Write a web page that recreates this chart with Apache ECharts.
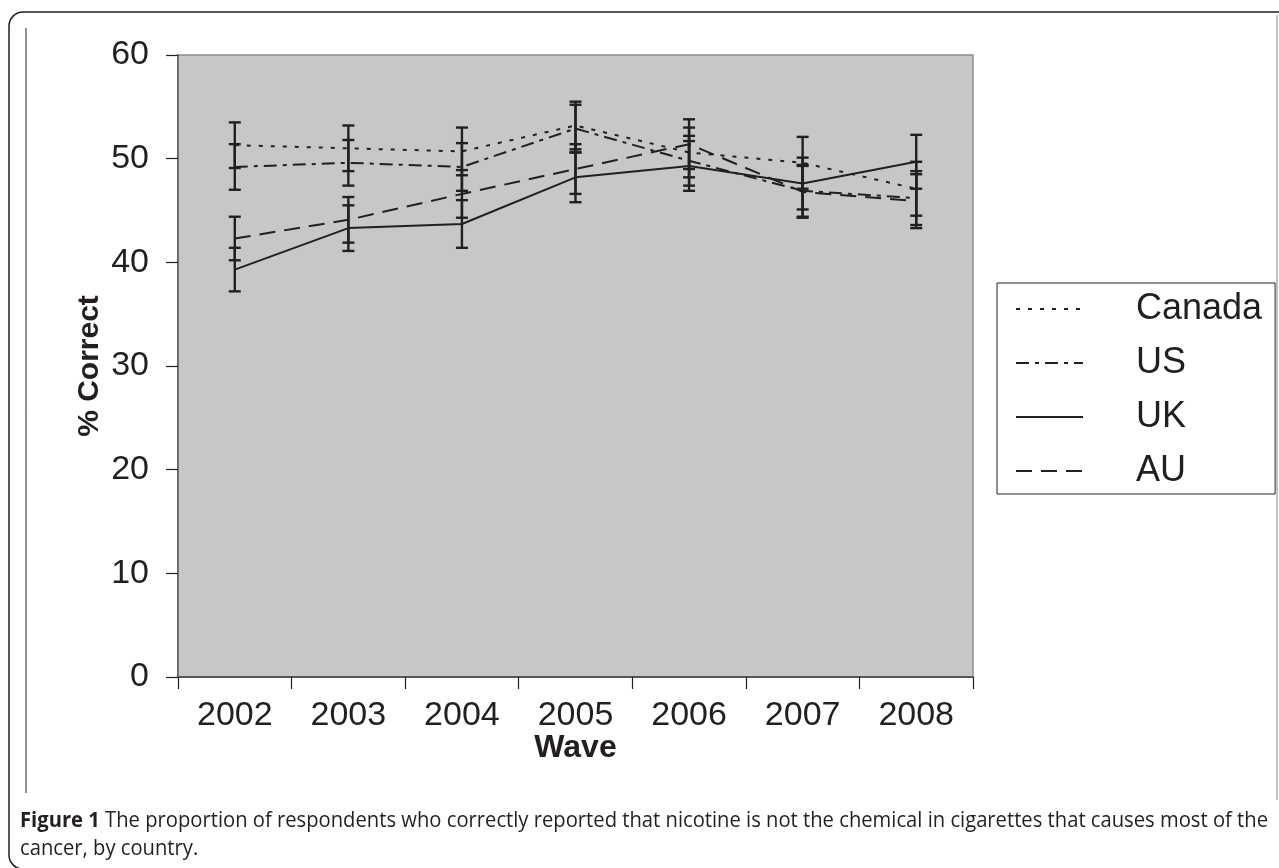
<!DOCTYPE html>
<html><head><meta charset="utf-8">
<script src="https://cdn.jsdelivr.net/npm/echarts@6/dist/echarts.min.js"></script>
<style>html,body{margin:0;padding:0;background:#fff}#c{width:1279px;height:868px}</style>
</head><body><div id="c"></div>
<script>
// ---- data ----
const waves = ['2002', '2003', '2004', '2005', '2006', '2007', '2008'];
const yTicks = [0, 10, 20, 30, 40, 50, 60];
const canada = [51.3, 51.0, 50.7, 53.2, 50.6, 49.6, 47.1];
const us     = [49.2, 49.6, 49.2, 52.9, 49.8, 46.9, 46.2];
const uk     = [39.3, 43.3, 43.7, 48.2, 49.3, 47.6, 49.7];
const au     = [42.3, 44.1, 46.6, 49.0, 51.4, 46.8, 45.9];
// half-width of the error bars (percentage points)
const canadaErr = [2.2, 2.2, 2.3, 2.3, 2.4, 2.5, 2.6];
const usErr     = [2.2, 2.2, 2.3, 2.3, 2.4, 2.5, 2.6];
const ukErr     = [2.1, 2.2, 2.3, 2.4, 2.4, 2.5, 2.6];
const auErr     = [2.1, 2.2, 2.3, 2.4, 2.4, 2.5, 2.6];
const names = ['Canada', 'US', 'UK', 'AU'];
const captionBold = 'Figure 1';
const captionLine1 = ' The proportion of respondents who correctly reported that nicotine is not the chemical in cigarettes that causes most of the';
const captionLine2 = 'cancer, by country.';

const ink = '#231f20';
const chart = echarts.init(document.getElementById('c'), null, {renderer: 'canvas'});

function errData(vals, errs) {
  return vals.map((v, i) => [i, v - errs[i], v + errs[i]]);
}
function errSeries(name, vals, errs) {
  return {
    type: 'custom', name: name + ' CI', z: 3,
    data: errData(vals, errs),
    renderItem: function (params, api) {
      const x = api.value(0);
      const lo = api.coord([x, api.value(1)]);
      const hi = api.coord([x, api.value(2)]);
      const w = 6;
      const st = {stroke: ink, lineWidth: 2.4};
      return {type: 'group', children: [
        {type: 'line', shape: {x1: hi[0], y1: hi[1], x2: lo[0], y2: lo[1]}, style: st},
        {type: 'line', shape: {x1: hi[0] - w, y1: hi[1], x2: hi[0] + w, y2: hi[1]}, style: st},
        {type: 'line', shape: {x1: lo[0] - w, y1: lo[1], x2: lo[0] + w, y2: lo[1]}, style: st}
      ]};
    }
  };
}
function lineSeries(name, vals, dash) {
  return {
    type: 'line', name: name, data: vals, symbol: 'none', z: 4,
    lineStyle: {color: ink, width: 2, type: dash},
    itemStyle: {color: ink}
  };
}

// caption fit (condensed look): measure and squeeze horizontally
const capFam = '"Open Sans", "Liberation Sans", sans-serif';
const capSize = 22;
const cv = document.createElement('canvas').getContext('2d');
cv.font = 'bold ' + capSize + 'px ' + capFam;
const wB = cv.measureText(captionBold).width;
cv.font = capSize + 'px ' + capFam;
const wR = cv.measureText(captionLine1).width;
const capScale = 1248 / (wB + wR);

const option = {
  animation: false,
  backgroundColor: '#ffffff',
  grid: {left: 178, right: 306, top: 55, bottom: 191, show: true,
         backgroundColor: '#c6c7c9', borderColor: '#8d8e90', borderWidth: 1.5},
  xAxis: {
    type: 'category', data: waves, boundaryGap: true,
    name: 'Wave', nameLocation: 'middle', nameGap: 55, nameMoveOverlap: false,
    nameTextStyle: {fontFamily: 'Liberation Sans', fontWeight: 'bold', fontSize: 32, color: ink},
    axisLine: {lineStyle: {color: '#3d3d3f', width: 1.5}},
    axisTick: {show: true, length: 12, lineStyle: {color: ink, width: 1.2}},
    axisLabel: {fontFamily: 'Liberation Sans', fontSize: 34, color: ink, margin: 22}
  },
  yAxis: {
    type: 'value', min: yTicks[0], max: yTicks[yTicks.length - 1], interval: 10,
    name: '% Correct', nameLocation: 'middle', nameGap: 73, nameRotate: 90, nameMoveOverlap: false,
    nameTextStyle: {fontFamily: 'Liberation Sans', fontWeight: 'bold', fontSize: 30, color: ink},
    axisLine: {show: true, lineStyle: {color: '#6d6e70', width: 2}},
    axisTick: {show: true, length: 12, lineStyle: {color: ink, width: 1.2}},
    splitLine: {show: false},
    axisLabel: {fontFamily: 'Liberation Sans', fontSize: 34, color: ink, margin: 29}
  },
  legend: {
    data: names, orient: 'vertical', left: 997, top: 283,
    itemWidth: 67, itemHeight: 14, itemGap: 18,
    padding: [8, 13, 5, 18],
    borderColor: ink, borderWidth: 1, backgroundColor: '#ffffff',
    itemStyle: {color: 'rgba(0,0,0,0)', borderWidth: 0, opacity: 0},
    textStyle: {fontFamily: 'Liberation Sans', fontSize: 36, lineHeight: 36, color: ink,
                padding: [0, 0, 0, 48]}
  },
  series: [
    lineSeries('Canada', canada, [4, 8]),
    lineSeries('US', us, [13, 6, 4, 6]),
    lineSeries('UK', uk, 'solid'),
    lineSeries('AU', au, [16, 9]),
    errSeries('Canada', canada, canadaErr),
    errSeries('US', us, usErr),
    errSeries('UK', uk, ukErr),
    errSeries('AU', au, auErr)
  ],
  graphic: [
    {type: 'rect', silent: true, shape: {x: 9, y: 12, width: 1300, height: 857, r: 14},
     style: {fill: 'none', stroke: ink, lineWidth: 1.5}},
    {type: 'line', silent: true, shape: {x1: 26, y1: 28, x2: 26, y2: 793},
     style: {stroke: ink, lineWidth: 1}},
    {type: 'line', silent: true, shape: {x1: 1277, y1: 15, x2: 1277, y2: 800},
     style: {stroke: '#b0b0b0', lineWidth: 1.5}},
    {type: 'text', silent: true, x: 20, y: 810, scaleX: capScale,
     style: {text: '{b|' + captionBold + '}' + captionLine1,
             fill: ink, font: capSize + 'px ' + capFam,
             rich: {b: {fontWeight: 'bold', fontSize: capSize, fontFamily: capFam, fill: ink}}}},
    {type: 'text', silent: true, x: 20, y: 838, scaleX: capScale,
     style: {text: captionLine2, fill: ink, font: capSize + 'px ' + capFam}}
  ]
};
chart.setOption(option);
</script>
</body></html>
